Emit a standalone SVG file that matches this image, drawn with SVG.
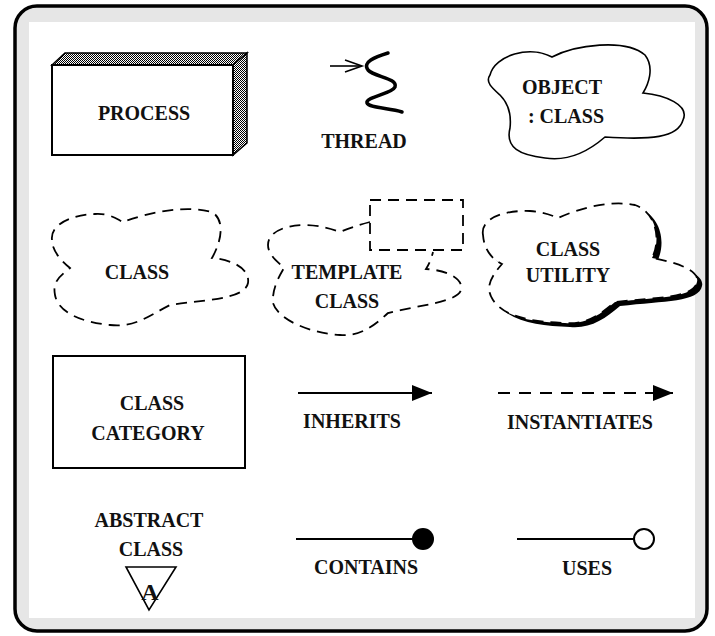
<svg xmlns="http://www.w3.org/2000/svg" width="715" height="636" viewBox="0 0 715 636">
<defs>
<style>
.t{font-family:"Liberation Serif","Times New Roman","DejaVu Serif",serif;font-weight:bold;font-size:20px;fill:#111;text-anchor:middle}
.ln{stroke:#000;stroke-width:2;fill:none}
.dash{stroke:#000;stroke-width:1.8;fill:#fff;stroke-dasharray:11 7}
.solid{stroke:#000;stroke-width:1.6;fill:#fff}
</style>
<pattern id="dots" width="2" height="2" patternUnits="userSpaceOnUse">
<rect width="2" height="2" fill="#fff"/>
<rect width="1" height="1" fill="#000"/>
<rect x="1" y="1" width="1" height="1" fill="#000"/>
</pattern>
<marker id="tri" viewBox="0 0 20 16" refX="20" refY="8" markerWidth="20" markerHeight="16" markerUnits="userSpaceOnUse" orient="auto">
<path d="M0,0 L20,8 L0,16 Z" fill="#000"/>
</marker>
</defs>
<g id="frame">
<rect x="15" y="6" width="692" height="625" rx="22" fill="#e6e6e6" stroke="#000" stroke-width="3.5"/>
<rect x="29" y="22" width="666" height="596" fill="#fff"/>
</g>
<g id="process">
<polygon points="52,65 65,53 247,53 233,65" fill="url(#dots)" stroke="#000" stroke-width="1.5"/>
<polygon points="233,65 247,53 247,143 233,155" fill="url(#dots)" stroke="#000" stroke-width="1.5"/>
<rect x="52" y="65" width="181" height="90" fill="#fff" stroke="#000" stroke-width="2"/>
<text class="t" x="144" y="120">PROCESS</text>
</g>
<g id="thread">
<line x1="330" y1="66" x2="361" y2="66" stroke="#000" stroke-width="1.6"/>
<polyline points="345,60 362,66 345,72" fill="none" stroke="#000" stroke-width="1.6"/>
<path d="M388,53 C375,57 362,62 368,70 C374,77 398,78 395,87 C392,94 365,97 367,103 C369,108 390,108 402,112" fill="none" stroke="#000" stroke-width="3.5" stroke-linecap="round"/>
<text class="t" x="364" y="148">THREAD</text>
</g>
<g id="object">
<path class="solid" d="M490,75 C495,55 530,45 552,57 C575,45 625,38 645,55 C655,68 648,85 643,93 C665,95 690,105 683,120 C678,138 650,140 605,137 C590,150 570,162 545,158 C520,155 505,148 510,128 C512,110 505,100 500,95 C492,88 485,82 490,75 Z"/>
<text class="t" x="562" y="94">OBJECT</text>
<text class="t" x="566" y="123">: CLASS</text>
</g>
<g id="class">
<path class="dash" d="M52,240 C50,225 70,215 95,214 C110,213 118,220 123,222 C150,212 185,205 212,212 C225,220 222,240 212,258 C235,260 250,270 248,283 C245,300 200,300 170,305 C150,315 135,328 110,325 C80,322 58,312 55,295 C52,280 62,275 70,268 C60,260 52,250 52,240 Z"/>
<text class="t" x="137" y="279">CLASS</text>
</g>
<g id="template-class">
<path class="dash" d="M370,222 C362,224 352,227 340,232 C335,230 320,225 305,225 C285,225 268,232 268,245 C268,255 278,262 284,268 C278,278 272,290 273,303 C278,320 310,333 340,335 C360,337 375,325 388,313 C420,305 458,302 461,290 C464,278 445,270 426,269 C429,264 431,260 433,252"/>
<rect x="370" y="200" width="93" height="50" fill="none" stroke="#000" stroke-width="1.8" stroke-dasharray="11 7"/>
<text class="t" x="347" y="279">TEMPLATE</text>
<text class="t" x="347" y="308">CLASS</text>
</g>
<g id="class-utility">
<path transform="translate(5,4)" fill="#000" d="M483,235 C480,218 505,210 530,211 C545,212 553,216 558,218 C580,208 610,200 635,205 C655,212 662,238 652,258 C675,262 700,270 697,282 C694,298 660,297 615,302 C600,315 585,325 565,323 C535,322 505,318 493,300 C485,288 490,278 502,264 C490,258 484,248 483,235 Z"/>
<path class="dash" d="M483,235 C480,218 505,210 530,211 C545,212 553,216 558,218 C580,208 610,200 635,205 C655,212 662,238 652,258 C675,262 700,270 697,282 C694,298 660,297 615,302 C600,315 585,325 565,323 C535,322 505,318 493,300 C485,288 490,278 502,264 C490,258 484,248 483,235 Z"/>
<text class="t" x="568" y="256">CLASS</text>
<text class="t" x="568" y="282">UTILITY</text>
</g>
<g id="class-category">
<rect x="53" y="356" width="192" height="112" fill="#fff" stroke="#000" stroke-width="2"/>
<text class="t" x="152" y="410">CLASS</text>
<text class="t" x="148" y="440">CATEGORY</text>
</g>
<g id="connectors">
<line class="ln" x1="298" y1="393" x2="432" y2="393" marker-end="url(#tri)"/>
<line class="ln" x1="498" y1="393" x2="673" y2="393" stroke-dasharray="12 9" marker-end="url(#tri)"/>
<line class="ln" x1="296" y1="539" x2="413" y2="539"/>
<circle cx="423" cy="539" r="11" fill="#000"/>
<line class="ln" x1="517" y1="539" x2="634" y2="539"/>
<circle cx="644" cy="539" r="10" fill="#fff" stroke="#000" stroke-width="2"/>
</g>
<g id="inherits"><text class="t" x="352" y="428">INHERITS</text></g>
<g id="instantiates"><text class="t" x="580" y="429">INSTANTIATES</text></g>
<g id="abstract-class">
<text class="t" x="149" y="527">ABSTRACT</text>
<text class="t" x="151" y="556">CLASS</text>
<polygon points="126,567 176,567 149,610" fill="#fff" stroke="#000" stroke-width="1.6"/>
<text class="t" x="150" y="600" style="font-size:24px">A</text>
</g>
<g id="contains"><text class="t" x="366" y="574">CONTAINS</text></g>
<g id="uses"><text class="t" x="587" y="575">USES</text></g>
</svg>
